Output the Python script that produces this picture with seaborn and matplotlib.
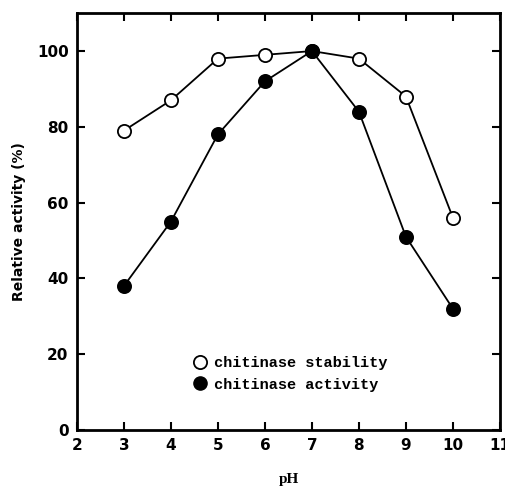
import matplotlib
matplotlib.use("Agg")
import matplotlib.pyplot as plt
from matplotlib.lines import Line2D
import seaborn as sns
import pandas as pd

ph = [3, 4, 5, 6, 7, 8, 9, 10]
stability = [79, 87, 98, 99, 100, 98, 88, 56]
activity = [38, 55, 78, 92, 100, 84, 51, 32]
x_ticks = [2, 3, 4, 5, 6, 7, 8, 9, 10, 11]
y_ticks = [0, 20, 40, 60, 80, 100]
labels = ["chitinase stability", "chitinase activity"]

sns.set_theme(style="ticks")
plt.rcParams['font.family'] = ['DejaVu Sans']
plt.rcParams['text.color'] = 'black'
plt.rcParams['axes.labelcolor'] = 'black'
plt.rcParams['xtick.color'] = 'black'
plt.rcParams['ytick.color'] = 'black'

fig = plt.figure(figsize=(5.06, 4.87), dpi=100)
ax = fig.add_axes([0.152, 0.117, 0.836, 0.856])

df_s = pd.DataFrame({"pH": ph, "val": stability})
df_a = pd.DataFrame({"pH": ph, "val": activity})

sns.lineplot(data=df_s, x="pH", y="val", ax=ax, color="black", lw=1.3,
             marker="o", markersize=9.5, markerfacecolor="white",
             markeredgecolor="black", markeredgewidth=1.3)
sns.lineplot(data=df_a, x="pH", y="val", ax=ax, color="black", lw=1.3,
             marker="o", markersize=9.5, markerfacecolor="black",
             markeredgecolor="black", markeredgewidth=1.3)

ax.set_xlim(2, 11)
ax.set_ylim(0, 110)
ax.set_xticks(x_ticks)
ax.set_yticks(y_ticks)
ax.set_xticklabels([str(t) for t in x_ticks], fontsize=11, fontweight="bold")
ax.set_yticklabels([str(t) for t in y_ticks], fontsize=11, fontweight="bold")
ax.tick_params(direction="in", length=6, width=1.5, top=True, right=True,
               labeltop=False, labelright=False, pad=6, colors="black")
for s in ax.spines.values():
    s.set_linewidth(2)
    s.set_color("black")

ax.set_xlabel("pH", fontsize=11, fontweight="bold", family="Liberation Serif", labelpad=14)
ax.set_ylabel("Relative activity (%)", fontsize=10, fontweight="bold", labelpad=8)

handles = [
    Line2D([], [], ls="none", marker="o", markersize=9.5, markerfacecolor="white",
           markeredgecolor="black", markeredgewidth=1.3),
    Line2D([], [], ls="none", marker="o", markersize=9.5, markerfacecolor="black",
           markeredgecolor="black"),
]
leg = ax.legend(handles, labels, loc="center left", bbox_to_anchor=(0.24, 0.135),
                frameon=False, handletextpad=0.4, labelspacing=0.5, handlelength=1.0,
                prop={"family": "Liberation Mono", "weight": "bold", "size": 11})

fig.savefig("out.png", dpi=100)
